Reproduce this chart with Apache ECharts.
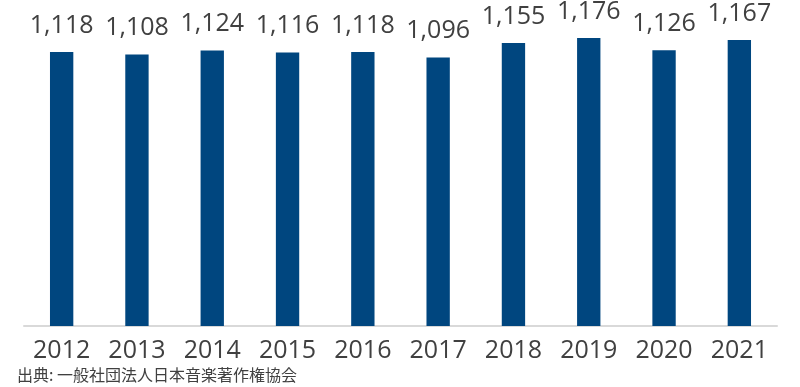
<!DOCTYPE html>
<html>
<head>
<meta charset="utf-8">
<script src="https://cdn.jsdelivr.net/npm/echarts@6/dist/echarts.min.js"></script>
<style>
  html, body { margin: 0; padding: 0; background: #ffffff; }
  #chart { width: 800px; height: 387px; }
</style>
</head>
<body>
<div id="chart"></div>
<script>
// 年別の値
const years = ['2012', '2013', '2014', '2015', '2016', '2017', '2018', '2019', '2020', '2021'];
const values = [1118, 1108, 1124, 1116, 1118, 1096, 1155, 1176, 1126, 1167];
const sourceText = '出典: 一般社団法人日本音楽著作権協会';

const chart = echarts.init(document.getElementById('chart'), null, { renderer: 'canvas' });

chart.setOption({
  animation: false,
  backgroundColor: '#ffffff',
  grid: { left: 24, right: 23, top: 32, bottom: 61, containLabel: false },
  graphic: [{
    type: 'text',
    left: 17,
    top: 367,
    style: {
      text: sourceText,
      font: '16px "Noto Sans CJK JP", sans-serif',
      fill: '#404040'
    }
  }],
  xAxis: {
    type: 'category',
    data: years,
    axisLine: { lineStyle: { color: '#d9d9d9', width: 2 } },
    axisTick: { show: false },
    axisLabel: {
      color: '#404040',
      fontSize: 25,
      fontFamily: '"Open Sans", sans-serif',
      margin: 12
    }
  },
  yAxis: {
    type: 'value',
    min: 0,
    max: 1200,
    show: false,
    splitLine: { show: false }
  },
  series: [{
    type: 'bar',
    data: values,
    barWidth: '31%',
    itemStyle: { color: '#00467f' },
    label: {
      show: true,
      position: 'top',
      distance: 14,
      color: '#404040',
      fontSize: 25,
      fontFamily: '"Open Sans", sans-serif',
      formatter: p => p.value.toLocaleString('en-US')
    }
  }]
});
</script>
</body>
</html>
